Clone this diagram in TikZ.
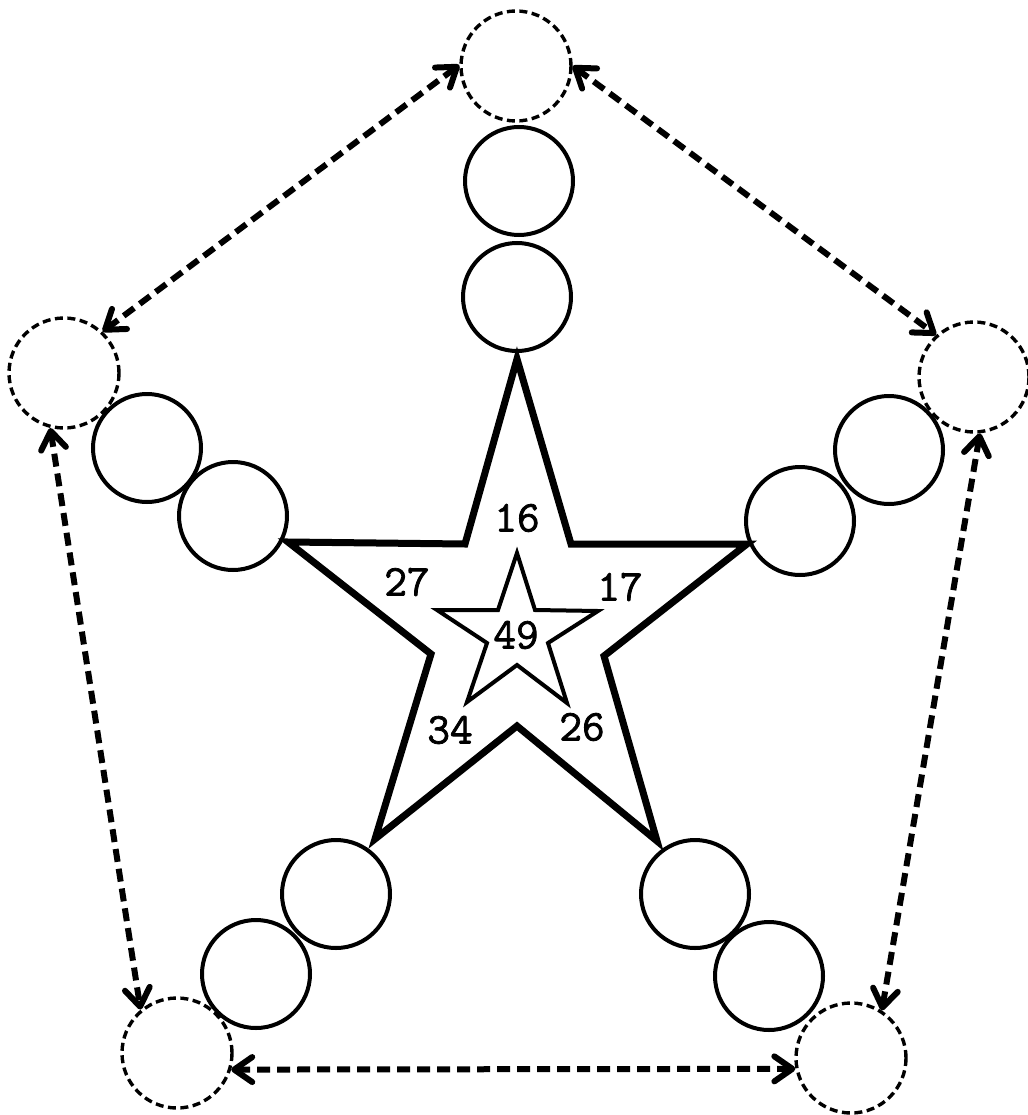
\documentclass[tikz,border=0pt]{standalone}
\usepackage{fontspec}
\newfontfamily\typfont{Latin Modern Mono}[FakeBold=1.8]
\usetikzlibrary{arrows.meta}
\begin{document}
\begin{tikzpicture}[x=1pt,y=-1pt,
  ball/.style={circle,draw,line width=4pt,minimum size=108pt,inner sep=0pt},
  spot/.style={circle,draw,line width=3.4pt,dash pattern=on 8pt off 4.5pt,minimum size=110pt,inner sep=0pt},
  tip/.tip={Straight Barb[length=18pt,width=25pt,line width=6pt,round]},
  link/.style={line width=6pt,dash pattern=on 13pt off 7pt,tip-tip},
  num/.style={font=\typfont\fontsize{44}{48}\selectfont,inner sep=0pt}]
\useasboundingbox[fill=white] (0,0) rectangle (1027,1115);
% dashed circles
\node[spot] (T)  at (516,66) {};
\node[spot] (L)  at (64,373) {};
\node[spot] (R)  at (974,377) {};
\node[spot] (BL) at (177,1053) {};
\node[spot] (BR) at (851,1058) {};
% solid circles
\node[ball] (t1) at (519,181) {};
\node[ball] (t2) at (517,297) {};
\node[ball] (l1) at (147,448) {};
\node[ball] (l2) at (233,516) {};
\node[ball] (r1) at (889,450) {};
\node[ball] (r2) at (800,521) {};
\node[ball] (bl1) at (336,894) {};
\node[ball] (bl2) at (256,974) {};
\node[ball] (br1) at (695,894) {};
\node[ball] (br2) at (769,976) {};
% outer star
\draw[line width=7pt,line join=miter] (517,359) -- (465,544) -- (288,542) -- (431,654) -- (375,839)
  -- (517,726) -- (657,841) -- (604,656) -- (747,544) -- (571,544) -- cycle;
% inner star
\draw[line width=4pt,line join=miter] (517,553) -- (535,610) -- (598,611) -- (548,643) -- (567,703)
  -- (517,665) -- (467,702) -- (487,643) -- (437,610) -- (498,610) -- cycle;
% numbers
\node[num] (n16) at (517,518) {16};
\node[num] (n27) at (407,582) {27};
\node[num] (n17) at (620,587) {17};
\node[num] (n49) at (516,635) {49};
\node[num] (n34) at (450,730) {34};
\node[num] (n26) at (582,727) {26};
% arrows
\draw[link] (T.179) -- (L.47);
\draw[link] (T.0) -- (R.132);
\draw[link] (L.256) -- (BL.130);
\draw[link] (R.276) -- (BR.57);
\draw[link] (BL.343) -- (BR.191);
\end{tikzpicture}
\end{document}
